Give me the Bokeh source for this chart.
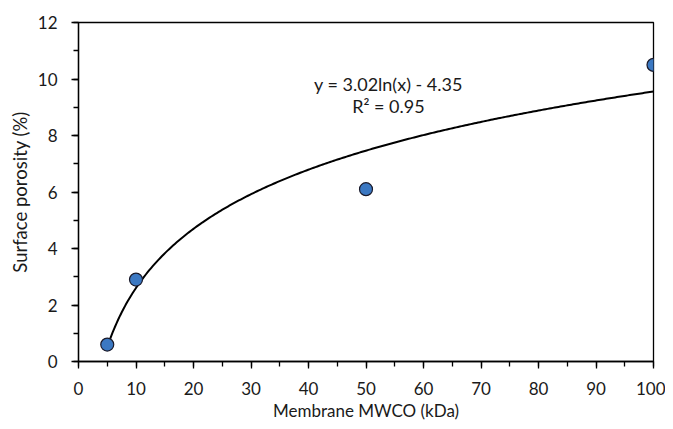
import numpy as np
from bokeh.plotting import figure
from bokeh.models import Range1d, SingleIntervalTicker, Label
from bokeh.embed import file_html
from bokeh.resources import INLINE

# Data
mwco = [5, 10, 50, 100]
porosity = [0.6, 2.9, 6.1, 10.5]
# Logarithmic trendline coefficients (from the chart's equation label)
fit_a = 3.02
fit_b = -4.35
fit_r2 = 0.95
x_ticks = [0, 10, 20, 30, 40, 50, 60, 70, 80, 90, 100]
y_ticks = [0, 2, 4, 6, 8, 10, 12]

FONT = "Lato"

p = figure(width=665, height=423, output_backend="svg", toolbar_location=None,
           x_range=Range1d(0, 100), y_range=Range1d(0, 12),
           min_border_left=78, min_border_right=12, min_border_top=22, min_border_bottom=61)
p.outline_line_color = "black"
p.outline_line_width = 1.3
p.outline_line_alpha = 1
p.xgrid.visible = False
p.ygrid.visible = False

p.xaxis.ticker = SingleIntervalTicker(interval=10, num_minor_ticks=2)
p.yaxis.ticker = SingleIntervalTicker(interval=2, num_minor_ticks=2)
for ax in (p.xaxis[0], p.yaxis[0]):
    ax.axis_line_color = "black"
    ax.axis_line_width = 1.3
    ax.major_tick_line_color = "black"
    ax.minor_tick_line_color = "black"
    ax.major_tick_line_width = 1.3
    ax.minor_tick_line_width = 1.3
    ax.major_tick_out = 7
    ax.major_tick_in = 0
    ax.minor_tick_out = 5
    ax.minor_tick_in = 0
    ax.major_label_text_font = FONT
    ax.major_label_text_font_size = "17px"
    ax.major_label_text_color = "#1a1a1a"
    ax.axis_label_text_font = FONT
    ax.axis_label_text_font_size = "17px"
    ax.axis_label_text_font_style = "normal"
    ax.axis_label_text_color = "#1a1a1a"

p.yaxis.axis_label_text_font_size = "18.5px"
p.xaxis.axis_label = "Membrane MWCO (kDa)"
p.yaxis.axis_label = "Surface porosity (%)"
p.xaxis.major_label_standoff = 13
p.yaxis.major_label_standoff = 14
p.xaxis.axis_label_standoff = 2
p.yaxis.axis_label_standoff = 4

# Trendline
xs = np.linspace(min(mwco), max(mwco), 300)
ys = fit_a * np.log(xs) + fit_b
p.line(xs, ys, line_color="black", line_width=2)

p.scatter(mwco, porosity, size=13, fill_color="#3b78c2", line_color="#1a1a2a", line_width=1.2)

p.add_layout(Label(x=53.9, y=9.81, text=f"y = {fit_a:.2f}ln(x) - {abs(fit_b):.2f}",
                   text_align="center", text_baseline="middle",
                   text_font=FONT, text_font_size="18px", text_color="#1a1a1a"))
p.add_layout(Label(x=53.9, y=9.04, text=f"R² = {fit_r2:.2f}",
                   text_align="center", text_baseline="middle",
                   text_font=FONT, text_font_size="18px", text_color="#1a1a1a"))

open("out.html", "w").write(file_html(p, INLINE))
